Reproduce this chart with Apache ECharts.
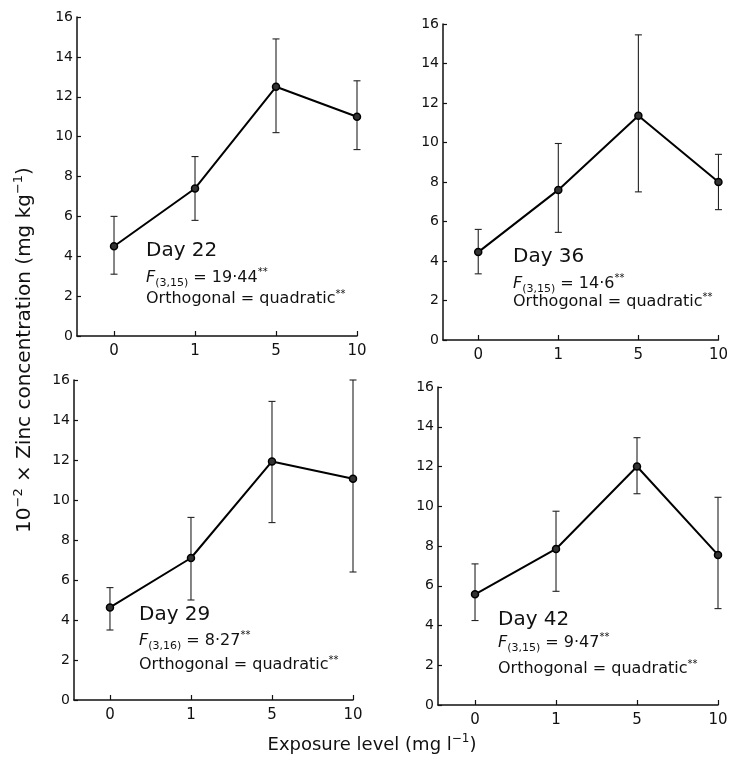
<!DOCTYPE html>
<html>
<head>
<meta charset="utf-8">
<script src="https://cdn.jsdelivr.net/npm/echarts@6/dist/echarts.min.js"></script>
<style>
html,body{margin:0;padding:0;background:#fff;}
#c{width:731px;height:761px;}
</style>
</head>
<body>
<div id="c"></div>
<script>
// ---- Data ----
const exposureLabels = ['0', '1', '5', '10'];
const exposureIndex = [0, 1, 2, 3];

const day22Mean  = [4.5, 7.4, 12.5, 11.0];
const day22Upper = [6.0, 9.0, 14.9, 12.8];
const day22Lower = [3.1, 5.8, 10.2, 9.35];

const day36Mean  = [4.45, 7.6, 11.35, 8.0];
const day36Upper = [5.6, 9.95, 15.45, 9.4];
const day36Lower = [3.35, 5.45, 7.5, 6.6];

const day29Mean  = [4.63, 7.1, 11.93, 11.06];
const day29Upper = [5.62, 9.13, 14.93, 16.0];
const day29Lower = [3.5, 5.0, 8.87, 6.4];

const day42Mean  = [5.57, 7.85, 12.0, 7.55];
const day42Upper = [7.1, 9.75, 13.45, 10.45];
const day42Lower = [4.25, 5.72, 10.63, 4.85];

const dayLabels = ['Day 22', 'Day 36', 'Day 29', 'Day 42'];
const fDegrees  = ['(3,15)', '(3,15)', '(3,16)', '(3,15)'];
const fValues   = ['19·44', '14·6', '8·27', '9·47'];
const orthoText = 'Orthogonal = quadratic';

const yTitleMain = '10';
const yTitleSup1 = '−2';
const yTitleMid = ' × Zinc concentration (mg kg';
const yTitleSup2 = '−1';
const xTitleMain = 'Exposure level (mg l';
const xTitleSup = '−1';

// ---- Layout (positions, not data) ----
const FONT = 'DejaVu Sans';
const INK = '#111';
const panels = [
  { mean: day22Mean, up: day22Upper, lo: day22Lower, grid: {left: 77, top: 17, width: 280, height: 319}, xmin: -0.457, txt: {x: 146, day: 251, f: 278, o: 299} },
  { mean: day36Mean, up: day36Upper, lo: day36Lower, grid: {left: 443, top: 24, width: 280, height: 316}, xmin: -0.44, txt: {x: 513, day: 257, f: 284, o: 302} },
  { mean: day29Mean, up: day29Upper, lo: day29Lower, grid: {left: 74, top: 380, width: 279, height: 320}, xmin: -0.444, txt: {x: 139, day: 615, f: 641, o: 665} },
  { mean: day42Mean, up: day42Upper, lo: day42Lower, grid: {left: 438, top: 387, width: 280, height: 318}, xmin: -0.457, txt: {x: 498, day: 620, f: 643, o: 669} }
];

const grids = [], xAxes = [], yAxes = [], series = [], graphics = [];

panels.forEach((p, i) => {
  grids.push(Object.assign({containLabel: false}, p.grid));
  xAxes.push({
    type: 'value', gridIndex: i, min: p.xmin, max: 3,
    axisLine: {show: true, onZero: false, lineStyle: {color: INK, width: 1.5}},
    axisTick: {show: true, inside: true, length: 5, customValues: exposureIndex, lineStyle: {color: INK, width: 1.2}},
    axisLabel: {show: true, customValues: exposureIndex, margin: 8, fontSize: 15, fontFamily: FONT, color: INK,
      formatter: v => exposureLabels[Math.round(v)]},
    splitLine: {show: false}
  });
  yAxes.push({
    type: 'value', gridIndex: i, min: 0, max: 16, interval: 2,
    axisLine: {show: true, onZero: false, lineStyle: {color: INK, width: 1.5}},
    axisTick: {show: true, inside: true, length: 4, lineStyle: {color: INK, width: 1.2}},
    axisLabel: {margin: 4, fontSize: 14, fontFamily: FONT, color: INK},
    splitLine: {show: false}
  });
  series.push({
    type: 'custom', xAxisIndex: i, yAxisIndex: i, z: 2,
    data: exposureIndex.map((x, k) => [x, p.up[k], p.lo[k]]),
    encode: {x: 0, y: [1, 2]},
    renderItem: (params, api) => {
      const x = api.value(0);
      const top = api.coord([x, api.value(1)]);
      const bot = api.coord([x, api.value(2)]);
      const w = 3.5;
      const st = {stroke: '#222', lineWidth: 1.1};
      return {type: 'group', children: [
        {type: 'line', shape: {x1: top[0], y1: top[1], x2: bot[0], y2: bot[1]}, style: st},
        {type: 'line', shape: {x1: top[0] - w, y1: top[1], x2: top[0] + w, y2: top[1]}, style: st},
        {type: 'line', shape: {x1: bot[0] - w, y1: bot[1], x2: bot[0] + w, y2: bot[1]}, style: st}
      ]};
    }
  });
  series.push({
    type: 'line', xAxisIndex: i, yAxisIndex: i, z: 3,
    data: exposureIndex.map((x, k) => [x, p.mean[k]]),
    symbol: 'circle', symbolSize: 7,
    lineStyle: {color: '#000', width: 2},
    itemStyle: {color: '#333', borderColor: '#000', borderWidth: 1.5},
    animation: false
  });
  // annotations
  graphics.push({
    type: 'text', x: p.txt.x, y: p.txt.day,
    style: {text: dayLabels[i], font: '20px "' + FONT + '"', fill: INK, align: 'left', verticalAlign: 'middle'}
  });
  graphics.push({
    type: 'text', x: p.txt.x, y: p.txt.f,
    style: {
      text: '{f|F}{s|' + fDegrees[i] + '}{n| = ' + fValues[i] + '}{p|**}',
      align: 'left', verticalAlign: 'middle',
      rich: {
        f: {fontSize: 16, fontFamily: FONT, fontStyle: 'italic', fill: INK, lineHeight: 22, verticalAlign: 'middle'},
        s: {fontSize: 11, fontFamily: FONT, fill: INK, verticalAlign: 'bottom'},
        n: {fontSize: 16, fontFamily: FONT, fill: INK, lineHeight: 22, verticalAlign: 'middle'},
        p: {fontSize: 10, fontFamily: FONT, fill: INK, verticalAlign: 'top'}
      }
    }
  });
  graphics.push({
    type: 'text', x: p.txt.x, y: p.txt.o,
    style: {
      text: '{n|' + orthoText + '}{p|**}',
      align: 'left', verticalAlign: 'middle',
      rich: {
        n: {fontSize: 16, fontFamily: FONT, fill: INK, lineHeight: 20, verticalAlign: 'middle'},
        p: {fontSize: 10, fontFamily: FONT, fill: INK, verticalAlign: 'top'}
      }
    }
  });
});

// axis titles
graphics.push({
  type: 'text', x: 25, y: 350, rotation: Math.PI / 2,
  style: {
    text: '{a|' + yTitleMain + '}{s|' + yTitleSup1 + '}{a|' + yTitleMid + '}{s|' + yTitleSup2 + '}{a|)}',
    align: 'center', verticalAlign: 'middle',
    rich: {
      a: {fontSize: 20, fontFamily: FONT, fill: INK, lineHeight: 26, verticalAlign: 'middle'},
      s: {fontSize: 13, fontFamily: FONT, fill: INK, verticalAlign: 'top'}
    }
  }
});
graphics.push({
  type: 'text', x: 372, y: 745,
  style: {
    text: '{a|' + xTitleMain + '}{s|' + xTitleSup + '}{a|)}',
    align: 'center', verticalAlign: 'middle',
    rich: {
      a: {fontSize: 18, fontFamily: FONT, fill: INK, lineHeight: 24, verticalAlign: 'middle'},
      s: {fontSize: 12, fontFamily: FONT, fill: INK, verticalAlign: 'top'}
    }
  }
});

const chart = echarts.init(document.getElementById('c'), null, {renderer: 'canvas'});
chart.setOption({
  animation: false,
  backgroundColor: '#fff',
  grid: grids,
  xAxis: xAxes,
  yAxis: yAxes,
  series: series,
  graphic: graphics
});
</script>
</body>
</html>
